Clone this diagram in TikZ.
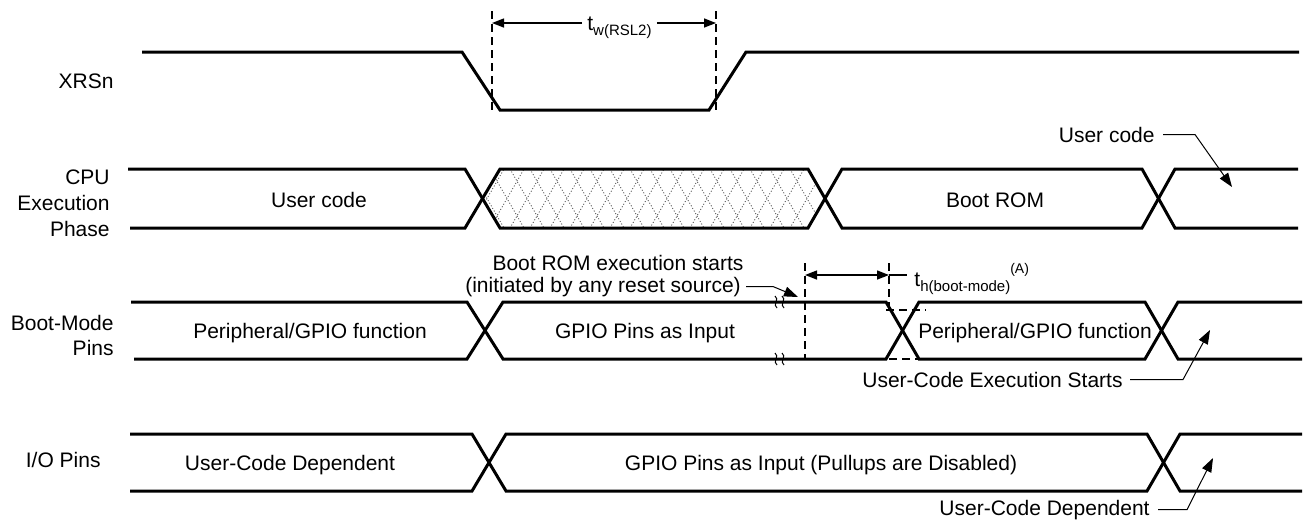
\documentclass[tikz,border=0pt]{standalone}
\usepackage{fontspec}
\setmainfont{Liberation Sans}
\usetikzlibrary{arrows.meta}
\newcommand\mysub[1]{\raisebox{-0.5ex}{\fontsize{7.5}{8}\selectfont #1}}
\newcommand\mysup[1]{\raisebox{1.15ex}{\fontsize{7}{8}\selectfont #1}}
\begin{document}
\begin{tikzpicture}[x=0.5pt,y=-0.5pt,
  sig/.style={line width=1.5pt},
  dsh/.style={line width=0.7pt, dash pattern=on 4pt off 2.5pt},
  dim/.style={line width=0.7pt},
  tipD/.style={-{Triangle[length=6pt,width=4.5pt]}},
  bothD/.style={{Triangle[length=6pt,width=4.5pt]}-{Triangle[length=6pt,width=4.5pt]}},
  leader/.style={line width=0.5pt, -{Triangle[length=7pt,width=5pt]}},
  lbl/.style={font=\fontsize{10.5}{13}\selectfont, inner sep=0pt},
  hatch/.style={line width=0.4pt, dash pattern=on 0.5pt off 1pt, black!70}
]
\useasboundingbox (0,0) rectangle (1304,521);

% ---------- row labels ----------
\node[lbl, anchor=base east] (xrsn) at (114,88.5) {XRSn};
\node[lbl, anchor=east, align=right] (cpu) at (110,203) {CPU\\Execution\\Phase};
\node[lbl, anchor=east, align=right, font=\fontsize{10.5}{12.5}\selectfont] (bmp) at (114,335) {Boot-Mode\\Pins};
\node[lbl, anchor=base east] (iop) at (101,467) {I/O Pins};

% ---------- XRSn ----------
\draw[sig] (142,52) -- (462,52) -- (500,110) -- (709,110) -- (746,52) -- (1299,52);
\coordinate (twa) at (492,23);
\coordinate (twb) at (716,23);
\draw[dsh] (492,11) -- (492,113);
\draw[dsh] (716,11) -- (716,113);
\node[lbl, anchor=base west] (tw) at (587,30) {t\mysub{w(RSL2)}};
\draw[dim,tipD] ([xshift=-2.5pt]tw.west |- twa) -- (twa);
\draw[dim,tipD] ([xshift=2.5pt]tw.east |- twb) -- (twb);

% ---------- CPU execution phase ----------
\begin{scope}
  \clip (482.5,198.5) -- (500,169) -- (808,169) -- (825,198.5) -- (808,228) -- (500,228) -- cycle;
  \foreach \x in {430,450,...,850} {
    \draw[hatch] (\x,169) -- (\x+34,228);
    \draw[hatch] (\x,228) -- (\x+34,169);
  }
\end{scope}
\draw[sig] (128,169) -- (465,169) -- (500,228) -- (808,228) -- (842,169) -- (1142,169) -- (1175,228) -- (1298,228);
\draw[sig] (130,228) -- (465,228) -- (500,169) -- (808,169) -- (842,228) -- (1142,228) -- (1175,169) -- (1298,169);
\node[lbl, anchor=base] (uc1) at (319,207) {User code};
\node[lbl, anchor=base] (brom) at (995,207) {Boot ROM};

\node[lbl, anchor=base east] (uca) at (1155,142) {User code};
\coordinate (ucTip) at (1232,187);
\draw[leader] ([xshift=4pt]uca.east) -- ++(32,0) -- (ucTip);

% ---------- Boot-mode pins ----------
\draw[sig] (131,302) -- (467,302) -- (503,359) -- (886,359) -- (919,302) -- (1145,302) -- (1178,359) -- (1302,359);
\draw[sig] (134,359) -- (467,359) -- (503,302) -- (886,302) -- (919,359) -- (1145,359) -- (1178,302) -- (1302,302);
\foreach \y in {302,359} \foreach \x in {776,783}
  \draw[line width=0.5pt] (\x-1,\y-6) .. controls (\x+4,\y-3) and (\x-4,\y+3) .. (\x+1,\y+6);
\node[lbl, anchor=base] (pg1) at (310,338) {Peripheral/GPIO function};
\node[lbl, anchor=base] (gpi) at (645,338) {GPIO Pins as Input};
\node[lbl, anchor=base] (pg2) at (1035,338) {Peripheral/GPIO function};

\node[lbl, anchor=base] (bootA) at (618,270) {Boot ROM execution starts};
\node[lbl, anchor=base] (bootB) at (603,292) {(initiated by any reset source)};
\coordinate (bootTip) at (798,297);
\draw[leader] ([xshift=2.5pt]bootB.east) -- ++(27,0) -- (bootTip);

\coordinate (thL) at (805,275);
\coordinate (thR) at (889,275);
\draw[dsh] (805,263) -- (805,359);
\draw[dsh] (889,263) -- (889,310);
\draw[dsh] (886,310) -- (926,310);
\draw[dsh] (889,359) -- (919,359);
\draw[dim,bothD] (thL) -- (thR);
\node[lbl, anchor=base west] (th) at (914,286) {t\mysub{h(boot-mode)}\mysup{(A)}};
\draw[dim] (thR) -- ([xshift=-3.5pt]th.west |- thR);

\node[lbl, anchor=base east] (uces) at (1123,387) {User-Code Execution Starts};
\coordinate (ucesTip) at (1210,330);
\draw[leader] ([xshift=3.5pt]uces.east) -- ++(53,0) -- (ucesTip);

% ---------- I/O pins ----------
\draw[sig] (130,434) -- (472,434) -- (506,491) -- (1147,491) -- (1180,434) -- (1302,434);
\draw[sig] (130,491) -- (472,491) -- (506,434) -- (1147,434) -- (1180,491) -- (1302,491);
\node[lbl, anchor=base] (ucd1) at (290,470) {User-Code Dependent};
\node[lbl, anchor=base] (gpid) at (821,470) {GPIO Pins as Input (Pullups are Disabled)};

\node[lbl, anchor=base east] (ucd2) at (1150,515) {User-Code Dependent};
\coordinate (ucdTip) at (1213,458);
\draw[leader] ([xshift=4pt]ucd2.east) -- ++(29,0) -- (ucdTip);
\end{tikzpicture}
\end{document}
